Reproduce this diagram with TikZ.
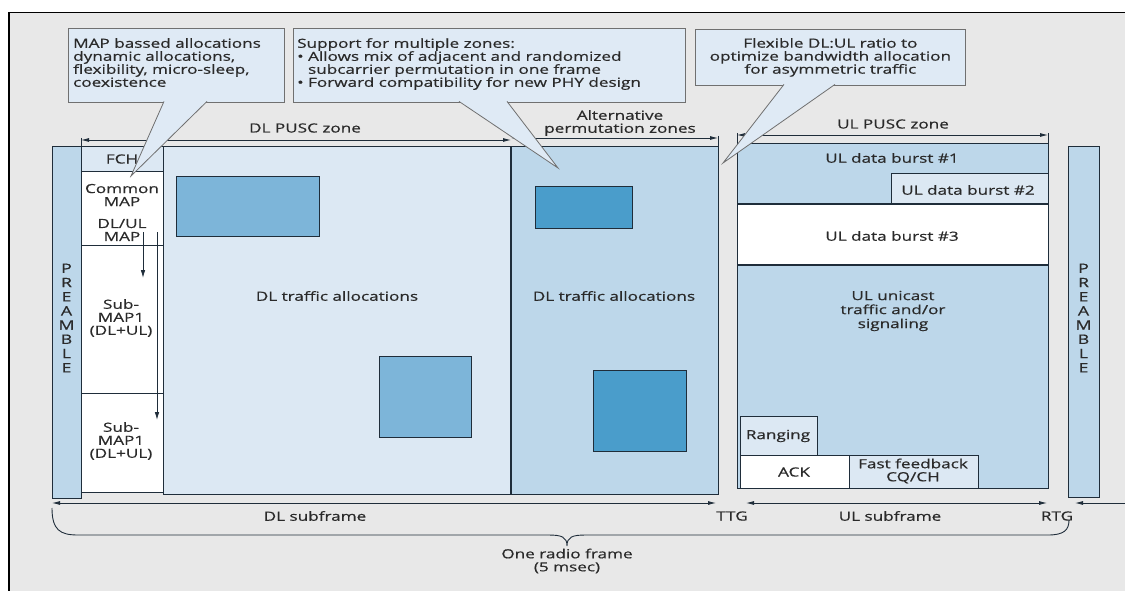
\documentclass[tikz,border=0pt]{standalone}
\usepackage{fontspec}
\setmainfont{Open Sans}[FakeStretch=1.36, FakeBold=0.6]
\usetikzlibrary{arrows.meta}
\definecolor{sheet}{HTML}{E8E8E8}
\definecolor{notefill}{HTML}{DFEAF5}
\definecolor{notedraw}{HTML}{707070}
\definecolor{palezone}{HTML}{DCE8F3}
\definecolor{midzone}{HTML}{BDD7EA}
\definecolor{dlburst}{HTML}{7DB5D9}
\definecolor{altburst}{HTML}{4A9DCB}
\definecolor{edge}{HTML}{1F2D3A}
\definecolor{ink}{HTML}{2A2A2A}
\def\pointer(#1)(#2)(#3){\fill[notefill] (#1) -- (#3) -- (#2) -- cycle; \draw[notedraw, line width=0.8pt] (#1) -- (#3) -- (#2);}

\begin{document}
\begin{tikzpicture}[x=1pt, y=-1pt, font=\fontsize{12.6}{13}\selectfont, text=ink,
    zone/.style={draw=edge, line width=1pt},
    note/.style={draw=notedraw, fill=notefill, line width=0.8pt, inner sep=0pt},
    span/.style={draw=edge, line width=0.8pt, {Latex[length=8pt,width=4pt]}-{Latex[length=8pt,width=4pt]}},
    tag/.style={inner sep=0pt, align=center},
    flow/.style={draw=edge, line width=0.8pt, -{Latex[length=8pt,width=4.5pt]}}]
    \useasboundingbox (0,0) rectangle (1125,591);
    %%%%% SHEET %%%%%
    \fill[sheet] (9,12.5) rectangle (1125,591);
    \draw[black, line width=1.2pt] (1125,12.5) -- (9,12.5) -- (9,591);

    %%%%% NOTES %%%%%
    \node[note, minimum width=216pt, minimum height=74pt, anchor=north west] (mapnote) at (68,28) {};
    \node[tag, anchor=north west, align=left] (maptext) at (73,38) {MAP bassed allocations\\dynamic allocations,\\flexibility, micro-sleep,\\coexistence};
    \node[note, minimum width=392pt, minimum height=74pt, anchor=north west] (zonenote) at (293,28) {};
    \node[tag, anchor=north west, align=left] (zonetext) at (297,38) {Support for multiple zones:\\\textbullet\ Allows mix of adjacent and randomized\\\phantom{\textbullet\ }subcarrier permutation in one frame\\\textbullet\ Forward compatibility for new PHY design};
    \node[note, minimum width=270pt, minimum height=56pt, anchor=north west] (rationote) at (695,29) {};
    \node[tag] (ratiotext) at (rationote.center) {Flexible DL:UL ratio to\\optimize bandwidth allocation\\for asymmetric traffic};

    %%%%% DL SUBFRAME %%%%%
    \draw[zone, fill=midzone] (52,147) rectangle (81,498);
    \node[tag, font=\fontsize{13}{14.2}\selectfont] (preamblel) at (66.5,318) {P\\R\\E\\A\\M\\B\\L\\E};

    \draw[zone, fill=palezone] (81,147) rectangle (163,172);
    \draw[zone, fill=white] (81,172) rectangle (163,245);
    \draw[zone, fill=white] (81,245) rectangle (163,393);
    \draw[zone, fill=white] (81,393) rectangle (163,492);
    \node[tag] (fch) at (122,159) {FCH};
    \node[tag] (common) at (122,195) {Common\\MAP};
    \node[tag] (dlulmap) at (122,230) {DL/UL\\MAP};
    \node[tag] (submapa) at (121,318) {Sub-\\MAP1\\(DL+UL)};
    \node[tag] (submapb) at (121,441) {Sub-\\MAP1\\(DL+UL)};
    \coordinate (flowa) at (143,232);
    \coordinate (flowb) at (157,232);
    \draw[flow] (flowa) -- ++(0,46);
    \draw[flow] (flowb) -- ++(0,188);

    \draw[zone, fill=palezone] (163,147) rectangle (511,494);
    \draw[zone, fill=dlburst] (176,177) rectangle (319,236);
    \draw[zone, fill=dlburst] (379,356) rectangle (471,437);
    \node[tag] (dltraffic) at (337,296) {DL traffic allocations};

    \draw[zone, fill=midzone] (511,147) rectangle (718,494);
    \draw[edge, line width=2.4pt] (511,147) -- (511,494);
    \draw[zone, fill=altburst] (535,187) rectangle (632,228);
    \draw[zone, fill=altburst] (593,370) rectangle (686,451);
    \node[tag] (alttraffic) at (614,296) {DL traffic allocations};

    %%%%% UL SUBFRAME %%%%%
    \draw[zone, fill=midzone] (737,144) rectangle (1048,488);
    \node[tag] (burst1) at (892,158) {UL data burst \#1};
    \draw[zone, fill=palezone] (891,174) rectangle (1048,204);
    \node[tag] (burst2) at (968,190) {UL data burst \#2};
    \draw[zone, fill=white] (737,204) rectangle (1048,265);
    \draw[edge, line width=1.8pt] (737,204) -- (1048,204) (737,265) -- (1048,265);
    \node[tag] (burst3) at (892,236) {UL data burst \#3};
    \node[tag, font=\fontsize{12.6}{14}\selectfont] (unicast) at (893,311) {UL unicast\\traffic and/or\\signaling};
    \draw[zone, fill=palezone] (740,416) rectangle (817,455);
    \node[tag] (ranging) at (778,436) {Ranging};
    \draw[zone, fill=white] (740,455) rectangle (849,488);
    \node[tag] (ack) at (794,472) {ACK};
    \draw[zone, fill=palezone] (849,455) rectangle (978,488);
    \node[tag] (feedback) at (913,471) {Fast feedback\\CQ/CH};

    \draw[zone, fill=midzone] (1068,147) rectangle (1099,497);
    \node[tag, font=\fontsize{13}{14.2}\selectfont] (preambler) at (1083.5,318) {P\\R\\E\\A\\M\\B\\L\\E};

    %%%%% ZONE SPANS %%%%%
    \coordinate (dlpuscL) at (81,140);
    \coordinate (dlpuscR) at (511,140);
    \coordinate (altL) at (511,138);
    \coordinate (altR) at (718,138);
    \coordinate (ulpuscL) at (737,135);
    \coordinate (ulpuscR) at (1048,135);
    \draw[span] (dlpuscL) -- (dlpuscR);
    \draw[span] (altL) -- (altR);
    \draw[span] (ulpuscL) -- (ulpuscR);
    \draw[edge, line width=0.8pt] (81,138) -- (81,147) (718,136) -- (718,147) (737,133) -- (737,144) (1048,133) -- (1048,144);
    \node[tag] (dlpusc) at (305,128) {DL PUSC zone};
    \node[tag] (altzone) at (620,123) {Alternative\\permutation zones};
    \node[tag] (ulpusc) at (893,124) {UL PUSC zone};

    %%%%% SUBFRAME SPANS %%%%%
    \coordinate (dlsubL) at (52,503);
    \coordinate (dlsubR) at (716,503);
    \coordinate (ulsubL) at (746,503);
    \coordinate (ulsubR) at (1047,503);
    \coordinate (rtgR) at (1125,503);
    \coordinate (rtgL) at (1075,503);
    \draw[span] (dlsubL) -- (dlsubR);
    \draw[span] (ulsubL) -- (ulsubR);
    \draw[edge, line width=0.8pt, -{Latex[length=8pt,width=4pt]}] (rtgR) -- (rtgL);
    \node[tag] (dlsub) at (315,516) {DL subframe};
    \node[tag] (ttg) at (732,516) {TTG};
    \node[tag] (ulsub) at (890,516) {UL subframe};
    \node[tag] (rtg) at (1057,516) {RTG};

    \draw[edge, line width=0.9pt] (52,508) .. controls (52,530) and (60,535) .. (78,535) -- (548,535)
        .. controls (562,535) and (567,537) .. (567,546) .. controls (567,537) and (572,535) .. (586,535)
        -- (1048,535) .. controls (1064,535) and (1069,530) .. (1069,520);
    \node[tag] (frame) at (567,561) {One radio frame\\(5 msec)};

    %%%%% POINTERS %%%%%
    \coordinate (mapA) at (164,101.4);
    \coordinate (mapB) at (207,101.4);
    \coordinate (mapT) at (131,176);
    \pointer(mapA)(mapB)(mapT)
    \coordinate (zoneA) at (459,101.4);
    \coordinate (zoneB) at (507,101.4);
    \coordinate (zoneT) at (558,168);
    \pointer(zoneA)(zoneB)(zoneT)
    \coordinate (ratioA) at (784,84.4);
    \coordinate (ratioB) at (835,84.4);
    \coordinate (ratioT) at (723,163);
    \pointer(ratioA)(ratioB)(ratioT)
\end{tikzpicture}
\end{document}
